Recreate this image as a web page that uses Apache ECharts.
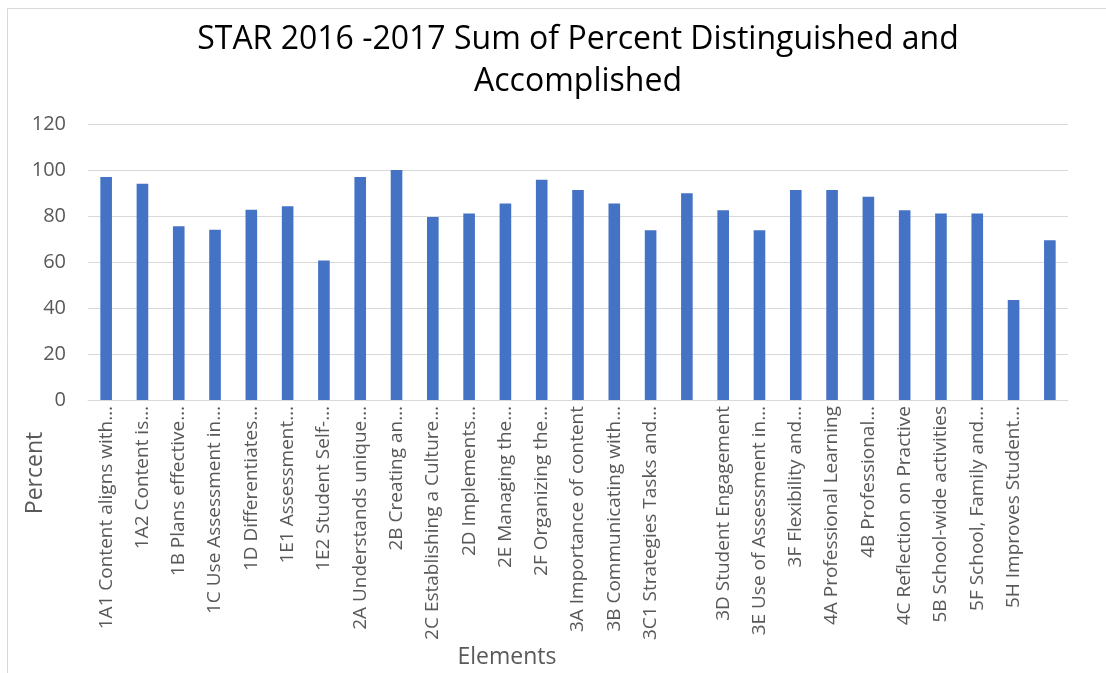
<!DOCTYPE html>
<html>
<head>
<meta charset="utf-8">
<script src="https://cdn.jsdelivr.net/npm/echarts@6/dist/echarts.min.js"></script>
<style>
  html, body { margin: 0; padding: 0; background: #fff; }
  #chart { width: 1106px; height: 673px; }
</style>
</head>
<body>
<div id="chart"></div>
<script>
const elements = [
  '1A1 Content aligns with…', '1A2 Content is…', '1B Plans effective…', '1C Use Assessment in…',
  '1D Differentiates…', '1E1 Assessment…', '1E2 Student Self-…', '2A Understands unique…',
  '2B Creating an…', '2C Establishing a Culture…', '2D Implements…', '2E Managing the…',
  '2F Organizing the…', '3A Importance of content', '3B Communicating with…', '3C1 Strategies Tasks and…',
  '', '3D Student Engagement', '3E Use of Assessment in…', '3F Flexibility and…',
  '4A Professional Learning', '4B Professional…', '4C Reflection on Practive', '5B School-wide activities',
  '5F School, Family and…', '5H Improves Student…', ' '
];
const percent = [
  97, 94, 75.5, 74, 82.7, 84.2, 60.7, 97,
  100, 79.6, 81.1, 85.4, 95.8, 91.3, 85.4, 73.8,
  89.9, 82.5, 73.8, 91.3, 91.3, 88.4, 82.5, 81.1,
  81.1, 43.5, 69.5
];
const yTicks = { min: 0, max: 120, interval: 20 };

const font = '"Open Sans", "Noto Sans", sans-serif';
const chart = echarts.init(document.getElementById('chart'));
chart.setOption({
  animation: false,
  textStyle: { fontFamily: font },
  title: {
    text: 'STAR 2016 -2017 Sum of Percent Distinguished and\nAccomplished',
    left: 573,
    textAlign: 'center',
    top: 14,
    textStyle: { fontSize: 32, fontWeight: 'normal', color: '#000', lineHeight: 42, fontFamily: font }
  },
  graphic: [
    { type: 'rect', shape: { x: 7.5, y: 8.5, width: 1120, height: 700 }, style: { fill: null, stroke: '#d9d9d9', lineWidth: 1 }, silent: true },
    { type: 'text', x: 35, y: 473, rotation: Math.PI / 2, style: { text: 'Percent', fontSize: 23, fill: '#595959', fontFamily: font, align: 'center', verticalAlign: 'middle' } },
    { type: 'text', x: 507, y: 657, style: { text: 'Elements', fontSize: 23, fill: '#595959', fontFamily: font, align: 'center', verticalAlign: 'middle' } }
  ],
  grid: { left: 88, right: 38, top: 124, bottom: 273 },
  xAxis: {
    type: 'category',
    data: elements,
    axisLine: { lineStyle: { color: '#d9d9d9', width: 1 } },
    axisTick: { show: false },
    axisLabel: { rotate: 90, interval: 0, color: '#595959', fontSize: 19, margin: 6, fontFamily: font }
  },
  yAxis: {
    type: 'value',
    min: yTicks.min, max: yTicks.max, interval: yTicks.interval,
    axisLine: { show: false },
    axisTick: { show: false },
    splitLine: { lineStyle: { color: '#d9d9d9', width: 1 } },
    axisLabel: { color: '#595959', fontSize: 20, margin: 22, fontFamily: font }
  },
  series: [{
    type: 'bar',
    data: percent,
    barWidth: '32%',
    itemStyle: { color: '#4472C4' }
  }]
});
</script>
</body>
</html>
